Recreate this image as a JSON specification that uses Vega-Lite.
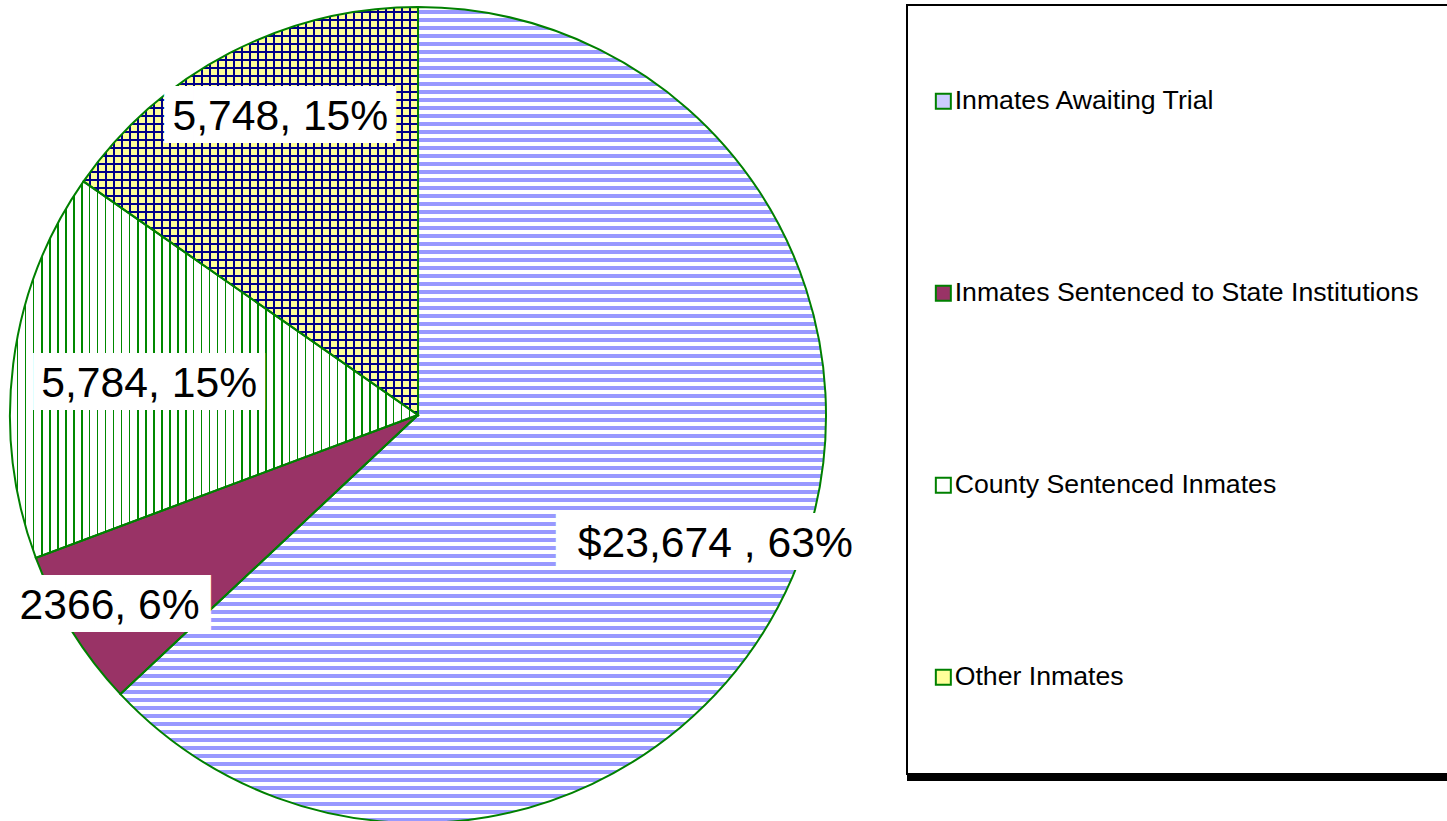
{
  "$schema": "https://vega.github.io/schema/vega-lite/v6.json",
  "padding": {"left": 6, "top": 3, "right": 0, "bottom": 0},
  "background": "white",
  "bounds": "flush",
  "spacing": 81,
  "config": {"view": {"stroke": null}, "font": "Liberation Sans"},
  "datasets": {
    "inmates": [
      {"cat": "Inmates Awaiting Trial", "value": 23674, "label": "$23,674 , 63%"},
      {"cat": "Inmates Sentenced to State Institutions", "value": 2366, "label": "2366, 6%"},
      {"cat": "County Sentenced Inmates", "value": 5784, "label": "5,784, 15%"},
      {"cat": "Other Inmates", "value": 5748, "label": "5,748, 15%"}
    ]
  },
  "hconcat": [
    {
      "width": 816,
      "height": 820,
      "data": {"name": "inmates"},
      "transform": [{"window": [{"op": "row_number", "as": "rank"}]}],
      "encoding": {
        "theta": {"field": "value", "type": "quantitative", "stack": true},
        "order": {"field": "rank", "type": "quantitative"}
      },
      "layer": [
        {
          "mark": {"type": "arc"},
          "encoding": {
            "fill": {
              "field": "cat",
              "type": "nominal",
              "scale": {
                "domain": ["Inmates Awaiting Trial", "Inmates Sentenced to State Institutions", "County Sentenced Inmates", "Other Inmates"],
                "range": ["#ccccff", "#993366", "#ffffff", "#ffff99"]
              },
              "legend": {
                "orient": "none",
                "legendX": 920,
                "legendY": 83,
                "title": null,
                "padding": 0,
                "symbolType": "square",
                "symbolSize": 225,
                "symbolStrokeColor": "#008000",
                "symbolStrokeWidth": 2,
                "symbolOpacity": 1,
                "labelFont": "Liberation Sans",
                "labelFontSize": 26.67,
                "labelColor": "#000000",
                "labelLimit": 800,
                "labelOffset": -2,
                "rowPadding": 164
              }
            }
          }
        },
        {
          "mark": {"type": "arc"},
          "encoding": {
            "fill": {
              "condition": [
                {
                  "test": "datum.cat === 'Inmates Awaiting Trial'",
                  "value": {
                    "gradient": "linear", "x1": 0, "y1": 0, "x2": 0, "y2": 1,
                    "stops": [
                      {"offset": 0, "color": "#fff"},
                      {"offset": 0.0037, "color": "#fff"}, {"offset": 0.0037, "color": "#99f"}, {"offset": 0.0086, "color": "#99f"}, {"offset": 0.0086, "color": "#fff"},
                      {"offset": 0.0135, "color": "#fff"}, {"offset": 0.0135, "color": "#99f"}, {"offset": 0.0184, "color": "#99f"}, {"offset": 0.0184, "color": "#fff"},
                      {"offset": 0.0233, "color": "#fff"}, {"offset": 0.0233, "color": "#99f"}, {"offset": 0.0282, "color": "#99f"}, {"offset": 0.0282, "color": "#fff"},
                      {"offset": 0.0331, "color": "#fff"}, {"offset": 0.0331, "color": "#99f"}, {"offset": 0.0380, "color": "#99f"}, {"offset": 0.0380, "color": "#fff"},
                      {"offset": 0.0429, "color": "#fff"}, {"offset": 0.0429, "color": "#99f"}, {"offset": 0.0478, "color": "#99f"}, {"offset": 0.0478, "color": "#fff"},
                      {"offset": 0.0527, "color": "#fff"}, {"offset": 0.0527, "color": "#99f"}, {"offset": 0.0576, "color": "#99f"}, {"offset": 0.0576, "color": "#fff"},
                      {"offset": 0.0625, "color": "#fff"}, {"offset": 0.0625, "color": "#99f"}, {"offset": 0.0674, "color": "#99f"}, {"offset": 0.0674, "color": "#fff"},
                      {"offset": 0.0723, "color": "#fff"}, {"offset": 0.0723, "color": "#99f"}, {"offset": 0.0772, "color": "#99f"}, {"offset": 0.0772, "color": "#fff"},
                      {"offset": 0.0821, "color": "#fff"}, {"offset": 0.0821, "color": "#99f"}, {"offset": 0.0870, "color": "#99f"}, {"offset": 0.0870, "color": "#fff"},
                      {"offset": 0.0919, "color": "#fff"}, {"offset": 0.0919, "color": "#99f"}, {"offset": 0.0968, "color": "#99f"}, {"offset": 0.0968, "color": "#fff"},
                      {"offset": 0.1017, "color": "#fff"}, {"offset": 0.1017, "color": "#99f"}, {"offset": 0.1066, "color": "#99f"}, {"offset": 0.1066, "color": "#fff"},
                      {"offset": 0.1115, "color": "#fff"}, {"offset": 0.1115, "color": "#99f"}, {"offset": 0.1164, "color": "#99f"}, {"offset": 0.1164, "color": "#fff"},
                      {"offset": 0.1213, "color": "#fff"}, {"offset": 0.1213, "color": "#99f"}, {"offset": 0.1262, "color": "#99f"}, {"offset": 0.1262, "color": "#fff"},
                      {"offset": 0.1311, "color": "#fff"}, {"offset": 0.1311, "color": "#99f"}, {"offset": 0.1360, "color": "#99f"}, {"offset": 0.1360, "color": "#fff"},
                      {"offset": 0.1409, "color": "#fff"}, {"offset": 0.1409, "color": "#99f"}, {"offset": 0.1458, "color": "#99f"}, {"offset": 0.1458, "color": "#fff"},
                      {"offset": 0.1507, "color": "#fff"}, {"offset": 0.1507, "color": "#99f"}, {"offset": 0.1556, "color": "#99f"}, {"offset": 0.1556, "color": "#fff"},
                      {"offset": 0.1605, "color": "#fff"}, {"offset": 0.1605, "color": "#99f"}, {"offset": 0.1654, "color": "#99f"}, {"offset": 0.1654, "color": "#fff"},
                      {"offset": 0.1703, "color": "#fff"}, {"offset": 0.1703, "color": "#99f"}, {"offset": 0.1752, "color": "#99f"}, {"offset": 0.1752, "color": "#fff"},
                      {"offset": 0.1801, "color": "#fff"}, {"offset": 0.1801, "color": "#99f"}, {"offset": 0.1850, "color": "#99f"}, {"offset": 0.1850, "color": "#fff"},
                      {"offset": 0.1900, "color": "#fff"}, {"offset": 0.1900, "color": "#99f"}, {"offset": 0.1949, "color": "#99f"}, {"offset": 0.1949, "color": "#fff"},
                      {"offset": 0.1998, "color": "#fff"}, {"offset": 0.1998, "color": "#99f"}, {"offset": 0.2047, "color": "#99f"}, {"offset": 0.2047, "color": "#fff"},
                      {"offset": 0.2096, "color": "#fff"}, {"offset": 0.2096, "color": "#99f"}, {"offset": 0.2145, "color": "#99f"}, {"offset": 0.2145, "color": "#fff"},
                      {"offset": 0.2194, "color": "#fff"}, {"offset": 0.2194, "color": "#99f"}, {"offset": 0.2243, "color": "#99f"}, {"offset": 0.2243, "color": "#fff"},
                      {"offset": 0.2292, "color": "#fff"}, {"offset": 0.2292, "color": "#99f"}, {"offset": 0.2341, "color": "#99f"}, {"offset": 0.2341, "color": "#fff"},
                      {"offset": 0.2390, "color": "#fff"}, {"offset": 0.2390, "color": "#99f"}, {"offset": 0.2439, "color": "#99f"}, {"offset": 0.2439, "color": "#fff"},
                      {"offset": 0.2488, "color": "#fff"}, {"offset": 0.2488, "color": "#99f"}, {"offset": 0.2537, "color": "#99f"}, {"offset": 0.2537, "color": "#fff"},
                      {"offset": 0.2586, "color": "#fff"}, {"offset": 0.2586, "color": "#99f"}, {"offset": 0.2635, "color": "#99f"}, {"offset": 0.2635, "color": "#fff"},
                      {"offset": 0.2684, "color": "#fff"}, {"offset": 0.2684, "color": "#99f"}, {"offset": 0.2733, "color": "#99f"}, {"offset": 0.2733, "color": "#fff"},
                      {"offset": 0.2782, "color": "#fff"}, {"offset": 0.2782, "color": "#99f"}, {"offset": 0.2831, "color": "#99f"}, {"offset": 0.2831, "color": "#fff"},
                      {"offset": 0.2880, "color": "#fff"}, {"offset": 0.2880, "color": "#99f"}, {"offset": 0.2929, "color": "#99f"}, {"offset": 0.2929, "color": "#fff"},
                      {"offset": 0.2978, "color": "#fff"}, {"offset": 0.2978, "color": "#99f"}, {"offset": 0.3027, "color": "#99f"}, {"offset": 0.3027, "color": "#fff"},
                      {"offset": 0.3076, "color": "#fff"}, {"offset": 0.3076, "color": "#99f"}, {"offset": 0.3125, "color": "#99f"}, {"offset": 0.3125, "color": "#fff"},
                      {"offset": 0.3174, "color": "#fff"}, {"offset": 0.3174, "color": "#99f"}, {"offset": 0.3223, "color": "#99f"}, {"offset": 0.3223, "color": "#fff"},
                      {"offset": 0.3272, "color": "#fff"}, {"offset": 0.3272, "color": "#99f"}, {"offset": 0.3321, "color": "#99f"}, {"offset": 0.3321, "color": "#fff"},
                      {"offset": 0.3370, "color": "#fff"}, {"offset": 0.3370, "color": "#99f"}, {"offset": 0.3419, "color": "#99f"}, {"offset": 0.3419, "color": "#fff"},
                      {"offset": 0.3468, "color": "#fff"}, {"offset": 0.3468, "color": "#99f"}, {"offset": 0.3517, "color": "#99f"}, {"offset": 0.3517, "color": "#fff"},
                      {"offset": 0.3566, "color": "#fff"}, {"offset": 0.3566, "color": "#99f"}, {"offset": 0.3615, "color": "#99f"}, {"offset": 0.3615, "color": "#fff"},
                      {"offset": 0.3664, "color": "#fff"}, {"offset": 0.3664, "color": "#99f"}, {"offset": 0.3713, "color": "#99f"}, {"offset": 0.3713, "color": "#fff"},
                      {"offset": 0.3762, "color": "#fff"}, {"offset": 0.3762, "color": "#99f"}, {"offset": 0.3811, "color": "#99f"}, {"offset": 0.3811, "color": "#fff"},
                      {"offset": 0.3860, "color": "#fff"}, {"offset": 0.3860, "color": "#99f"}, {"offset": 0.3909, "color": "#99f"}, {"offset": 0.3909, "color": "#fff"},
                      {"offset": 0.3958, "color": "#fff"}, {"offset": 0.3958, "color": "#99f"}, {"offset": 0.4007, "color": "#99f"}, {"offset": 0.4007, "color": "#fff"},
                      {"offset": 0.4056, "color": "#fff"}, {"offset": 0.4056, "color": "#99f"}, {"offset": 0.4105, "color": "#99f"}, {"offset": 0.4105, "color": "#fff"},
                      {"offset": 0.4154, "color": "#fff"}, {"offset": 0.4154, "color": "#99f"}, {"offset": 0.4203, "color": "#99f"}, {"offset": 0.4203, "color": "#fff"},
                      {"offset": 0.4252, "color": "#fff"}, {"offset": 0.4252, "color": "#99f"}, {"offset": 0.4301, "color": "#99f"}, {"offset": 0.4301, "color": "#fff"},
                      {"offset": 0.4350, "color": "#fff"}, {"offset": 0.4350, "color": "#99f"}, {"offset": 0.4400, "color": "#99f"}, {"offset": 0.4400, "color": "#fff"},
                      {"offset": 0.4449, "color": "#fff"}, {"offset": 0.4449, "color": "#99f"}, {"offset": 0.4498, "color": "#99f"}, {"offset": 0.4498, "color": "#fff"},
                      {"offset": 0.4547, "color": "#fff"}, {"offset": 0.4547, "color": "#99f"}, {"offset": 0.4596, "color": "#99f"}, {"offset": 0.4596, "color": "#fff"},
                      {"offset": 0.4645, "color": "#fff"}, {"offset": 0.4645, "color": "#99f"}, {"offset": 0.4694, "color": "#99f"}, {"offset": 0.4694, "color": "#fff"},
                      {"offset": 0.4743, "color": "#fff"}, {"offset": 0.4743, "color": "#99f"}, {"offset": 0.4792, "color": "#99f"}, {"offset": 0.4792, "color": "#fff"},
                      {"offset": 0.4841, "color": "#fff"}, {"offset": 0.4841, "color": "#99f"}, {"offset": 0.4890, "color": "#99f"}, {"offset": 0.4890, "color": "#fff"},
                      {"offset": 0.4939, "color": "#fff"}, {"offset": 0.4939, "color": "#99f"}, {"offset": 0.4988, "color": "#99f"}, {"offset": 0.4988, "color": "#fff"},
                      {"offset": 0.5037, "color": "#fff"}, {"offset": 0.5037, "color": "#99f"}, {"offset": 0.5086, "color": "#99f"}, {"offset": 0.5086, "color": "#fff"},
                      {"offset": 0.5135, "color": "#fff"}, {"offset": 0.5135, "color": "#99f"}, {"offset": 0.5184, "color": "#99f"}, {"offset": 0.5184, "color": "#fff"},
                      {"offset": 0.5233, "color": "#fff"}, {"offset": 0.5233, "color": "#99f"}, {"offset": 0.5282, "color": "#99f"}, {"offset": 0.5282, "color": "#fff"},
                      {"offset": 0.5331, "color": "#fff"}, {"offset": 0.5331, "color": "#99f"}, {"offset": 0.5380, "color": "#99f"}, {"offset": 0.5380, "color": "#fff"},
                      {"offset": 0.5429, "color": "#fff"}, {"offset": 0.5429, "color": "#99f"}, {"offset": 0.5478, "color": "#99f"}, {"offset": 0.5478, "color": "#fff"},
                      {"offset": 0.5527, "color": "#fff"}, {"offset": 0.5527, "color": "#99f"}, {"offset": 0.5576, "color": "#99f"}, {"offset": 0.5576, "color": "#fff"},
                      {"offset": 0.5625, "color": "#fff"}, {"offset": 0.5625, "color": "#99f"}, {"offset": 0.5674, "color": "#99f"}, {"offset": 0.5674, "color": "#fff"},
                      {"offset": 0.5723, "color": "#fff"}, {"offset": 0.5723, "color": "#99f"}, {"offset": 0.5772, "color": "#99f"}, {"offset": 0.5772, "color": "#fff"},
                      {"offset": 0.5821, "color": "#fff"}, {"offset": 0.5821, "color": "#99f"}, {"offset": 0.5870, "color": "#99f"}, {"offset": 0.5870, "color": "#fff"},
                      {"offset": 0.5919, "color": "#fff"}, {"offset": 0.5919, "color": "#99f"}, {"offset": 0.5968, "color": "#99f"}, {"offset": 0.5968, "color": "#fff"},
                      {"offset": 0.6017, "color": "#fff"}, {"offset": 0.6017, "color": "#99f"}, {"offset": 0.6066, "color": "#99f"}, {"offset": 0.6066, "color": "#fff"},
                      {"offset": 0.6115, "color": "#fff"}, {"offset": 0.6115, "color": "#99f"}, {"offset": 0.6164, "color": "#99f"}, {"offset": 0.6164, "color": "#fff"},
                      {"offset": 0.6213, "color": "#fff"}, {"offset": 0.6213, "color": "#99f"}, {"offset": 0.6262, "color": "#99f"}, {"offset": 0.6262, "color": "#fff"},
                      {"offset": 0.6311, "color": "#fff"}, {"offset": 0.6311, "color": "#99f"}, {"offset": 0.6360, "color": "#99f"}, {"offset": 0.6360, "color": "#fff"},
                      {"offset": 0.6409, "color": "#fff"}, {"offset": 0.6409, "color": "#99f"}, {"offset": 0.6458, "color": "#99f"}, {"offset": 0.6458, "color": "#fff"},
                      {"offset": 0.6507, "color": "#fff"}, {"offset": 0.6507, "color": "#99f"}, {"offset": 0.6556, "color": "#99f"}, {"offset": 0.6556, "color": "#fff"},
                      {"offset": 0.6605, "color": "#fff"}, {"offset": 0.6605, "color": "#99f"}, {"offset": 0.6654, "color": "#99f"}, {"offset": 0.6654, "color": "#fff"},
                      {"offset": 0.6703, "color": "#fff"}, {"offset": 0.6703, "color": "#99f"}, {"offset": 0.6752, "color": "#99f"}, {"offset": 0.6752, "color": "#fff"},
                      {"offset": 0.6801, "color": "#fff"}, {"offset": 0.6801, "color": "#99f"}, {"offset": 0.6850, "color": "#99f"}, {"offset": 0.6850, "color": "#fff"},
                      {"offset": 0.6900, "color": "#fff"}, {"offset": 0.6900, "color": "#99f"}, {"offset": 0.6949, "color": "#99f"}, {"offset": 0.6949, "color": "#fff"},
                      {"offset": 0.6998, "color": "#fff"}, {"offset": 0.6998, "color": "#99f"}, {"offset": 0.7047, "color": "#99f"}, {"offset": 0.7047, "color": "#fff"},
                      {"offset": 0.7096, "color": "#fff"}, {"offset": 0.7096, "color": "#99f"}, {"offset": 0.7145, "color": "#99f"}, {"offset": 0.7145, "color": "#fff"},
                      {"offset": 0.7194, "color": "#fff"}, {"offset": 0.7194, "color": "#99f"}, {"offset": 0.7243, "color": "#99f"}, {"offset": 0.7243, "color": "#fff"},
                      {"offset": 0.7292, "color": "#fff"}, {"offset": 0.7292, "color": "#99f"}, {"offset": 0.7341, "color": "#99f"}, {"offset": 0.7341, "color": "#fff"},
                      {"offset": 0.7390, "color": "#fff"}, {"offset": 0.7390, "color": "#99f"}, {"offset": 0.7439, "color": "#99f"}, {"offset": 0.7439, "color": "#fff"},
                      {"offset": 0.7488, "color": "#fff"}, {"offset": 0.7488, "color": "#99f"}, {"offset": 0.7537, "color": "#99f"}, {"offset": 0.7537, "color": "#fff"},
                      {"offset": 0.7586, "color": "#fff"}, {"offset": 0.7586, "color": "#99f"}, {"offset": 0.7635, "color": "#99f"}, {"offset": 0.7635, "color": "#fff"},
                      {"offset": 0.7684, "color": "#fff"}, {"offset": 0.7684, "color": "#99f"}, {"offset": 0.7733, "color": "#99f"}, {"offset": 0.7733, "color": "#fff"},
                      {"offset": 0.7782, "color": "#fff"}, {"offset": 0.7782, "color": "#99f"}, {"offset": 0.7831, "color": "#99f"}, {"offset": 0.7831, "color": "#fff"},
                      {"offset": 0.7880, "color": "#fff"}, {"offset": 0.7880, "color": "#99f"}, {"offset": 0.7929, "color": "#99f"}, {"offset": 0.7929, "color": "#fff"},
                      {"offset": 0.7978, "color": "#fff"}, {"offset": 0.7978, "color": "#99f"}, {"offset": 0.8027, "color": "#99f"}, {"offset": 0.8027, "color": "#fff"},
                      {"offset": 0.8076, "color": "#fff"}, {"offset": 0.8076, "color": "#99f"}, {"offset": 0.8125, "color": "#99f"}, {"offset": 0.8125, "color": "#fff"},
                      {"offset": 0.8174, "color": "#fff"}, {"offset": 0.8174, "color": "#99f"}, {"offset": 0.8223, "color": "#99f"}, {"offset": 0.8223, "color": "#fff"},
                      {"offset": 0.8272, "color": "#fff"}, {"offset": 0.8272, "color": "#99f"}, {"offset": 0.8321, "color": "#99f"}, {"offset": 0.8321, "color": "#fff"},
                      {"offset": 0.8370, "color": "#fff"}, {"offset": 0.8370, "color": "#99f"}, {"offset": 0.8419, "color": "#99f"}, {"offset": 0.8419, "color": "#fff"},
                      {"offset": 0.8468, "color": "#fff"}, {"offset": 0.8468, "color": "#99f"}, {"offset": 0.8517, "color": "#99f"}, {"offset": 0.8517, "color": "#fff"},
                      {"offset": 0.8566, "color": "#fff"}, {"offset": 0.8566, "color": "#99f"}, {"offset": 0.8615, "color": "#99f"}, {"offset": 0.8615, "color": "#fff"},
                      {"offset": 0.8664, "color": "#fff"}, {"offset": 0.8664, "color": "#99f"}, {"offset": 0.8713, "color": "#99f"}, {"offset": 0.8713, "color": "#fff"},
                      {"offset": 0.8762, "color": "#fff"}, {"offset": 0.8762, "color": "#99f"}, {"offset": 0.8811, "color": "#99f"}, {"offset": 0.8811, "color": "#fff"},
                      {"offset": 0.8860, "color": "#fff"}, {"offset": 0.8860, "color": "#99f"}, {"offset": 0.8909, "color": "#99f"}, {"offset": 0.8909, "color": "#fff"},
                      {"offset": 0.8958, "color": "#fff"}, {"offset": 0.8958, "color": "#99f"}, {"offset": 0.9007, "color": "#99f"}, {"offset": 0.9007, "color": "#fff"},
                      {"offset": 0.9056, "color": "#fff"}, {"offset": 0.9056, "color": "#99f"}, {"offset": 0.9105, "color": "#99f"}, {"offset": 0.9105, "color": "#fff"},
                      {"offset": 0.9154, "color": "#fff"}, {"offset": 0.9154, "color": "#99f"}, {"offset": 0.9203, "color": "#99f"}, {"offset": 0.9203, "color": "#fff"},
                      {"offset": 0.9252, "color": "#fff"}, {"offset": 0.9252, "color": "#99f"}, {"offset": 0.9301, "color": "#99f"}, {"offset": 0.9301, "color": "#fff"},
                      {"offset": 0.9350, "color": "#fff"}, {"offset": 0.9350, "color": "#99f"}, {"offset": 0.9400, "color": "#99f"}, {"offset": 0.9400, "color": "#fff"},
                      {"offset": 0.9449, "color": "#fff"}, {"offset": 0.9449, "color": "#99f"}, {"offset": 0.9498, "color": "#99f"}, {"offset": 0.9498, "color": "#fff"},
                      {"offset": 0.9547, "color": "#fff"}, {"offset": 0.9547, "color": "#99f"}, {"offset": 0.9596, "color": "#99f"}, {"offset": 0.9596, "color": "#fff"},
                      {"offset": 0.9645, "color": "#fff"}, {"offset": 0.9645, "color": "#99f"}, {"offset": 0.9694, "color": "#99f"}, {"offset": 0.9694, "color": "#fff"},
                      {"offset": 0.9743, "color": "#fff"}, {"offset": 0.9743, "color": "#99f"}, {"offset": 0.9792, "color": "#99f"}, {"offset": 0.9792, "color": "#fff"},
                      {"offset": 0.9841, "color": "#fff"}, {"offset": 0.9841, "color": "#99f"}, {"offset": 0.9890, "color": "#99f"}, {"offset": 0.9890, "color": "#fff"},
                      {"offset": 0.9939, "color": "#fff"}, {"offset": 0.9939, "color": "#99f"}, {"offset": 0.9988, "color": "#99f"}, {"offset": 0.9988, "color": "#fff"},
                      {"offset": 1, "color": "#fff"}
                    ]
                  }
                },
                {
                  "test": "datum.cat === 'County Sentenced Inmates'",
                  "value": {
                    "gradient": "linear", "x1": 0, "y1": 0, "x2": 1, "y2": 0,
                    "stops": [
                      {"offset": 0, "color": "#fff"},
                      {"offset": 0.0172, "color": "#fff"}, {"offset": 0.0172, "color": "#080"}, {"offset": 0.0208, "color": "#080"}, {"offset": 0.0208, "color": "#fff"},
                      {"offset": 0.0368, "color": "#fff"}, {"offset": 0.0368, "color": "#080"}, {"offset": 0.0404, "color": "#080"}, {"offset": 0.0404, "color": "#fff"},
                      {"offset": 0.0564, "color": "#fff"}, {"offset": 0.0564, "color": "#080"}, {"offset": 0.0600, "color": "#080"}, {"offset": 0.0600, "color": "#fff"},
                      {"offset": 0.0760, "color": "#fff"}, {"offset": 0.0760, "color": "#080"}, {"offset": 0.0797, "color": "#080"}, {"offset": 0.0797, "color": "#fff"},
                      {"offset": 0.0956, "color": "#fff"}, {"offset": 0.0956, "color": "#080"}, {"offset": 0.0993, "color": "#080"}, {"offset": 0.0993, "color": "#fff"},
                      {"offset": 0.1152, "color": "#fff"}, {"offset": 0.1152, "color": "#080"}, {"offset": 0.1189, "color": "#080"}, {"offset": 0.1189, "color": "#fff"},
                      {"offset": 0.1348, "color": "#fff"}, {"offset": 0.1348, "color": "#080"}, {"offset": 0.1385, "color": "#080"}, {"offset": 0.1385, "color": "#fff"},
                      {"offset": 0.1544, "color": "#fff"}, {"offset": 0.1544, "color": "#080"}, {"offset": 0.1581, "color": "#080"}, {"offset": 0.1581, "color": "#fff"},
                      {"offset": 0.1740, "color": "#fff"}, {"offset": 0.1740, "color": "#080"}, {"offset": 0.1777, "color": "#080"}, {"offset": 0.1777, "color": "#fff"},
                      {"offset": 0.1936, "color": "#fff"}, {"offset": 0.1936, "color": "#080"}, {"offset": 0.1973, "color": "#080"}, {"offset": 0.1973, "color": "#fff"},
                      {"offset": 0.2132, "color": "#fff"}, {"offset": 0.2132, "color": "#080"}, {"offset": 0.2169, "color": "#080"}, {"offset": 0.2169, "color": "#fff"},
                      {"offset": 0.2328, "color": "#fff"}, {"offset": 0.2328, "color": "#080"}, {"offset": 0.2365, "color": "#080"}, {"offset": 0.2365, "color": "#fff"},
                      {"offset": 0.2525, "color": "#fff"}, {"offset": 0.2525, "color": "#080"}, {"offset": 0.2561, "color": "#080"}, {"offset": 0.2561, "color": "#fff"},
                      {"offset": 0.2721, "color": "#fff"}, {"offset": 0.2721, "color": "#080"}, {"offset": 0.2757, "color": "#080"}, {"offset": 0.2757, "color": "#fff"},
                      {"offset": 0.2917, "color": "#fff"}, {"offset": 0.2917, "color": "#080"}, {"offset": 0.2953, "color": "#080"}, {"offset": 0.2953, "color": "#fff"},
                      {"offset": 0.3113, "color": "#fff"}, {"offset": 0.3113, "color": "#080"}, {"offset": 0.3150, "color": "#080"}, {"offset": 0.3150, "color": "#fff"},
                      {"offset": 0.3309, "color": "#fff"}, {"offset": 0.3309, "color": "#080"}, {"offset": 0.3346, "color": "#080"}, {"offset": 0.3346, "color": "#fff"},
                      {"offset": 0.3505, "color": "#fff"}, {"offset": 0.3505, "color": "#080"}, {"offset": 0.3542, "color": "#080"}, {"offset": 0.3542, "color": "#fff"},
                      {"offset": 0.3701, "color": "#fff"}, {"offset": 0.3701, "color": "#080"}, {"offset": 0.3738, "color": "#080"}, {"offset": 0.3738, "color": "#fff"},
                      {"offset": 0.3897, "color": "#fff"}, {"offset": 0.3897, "color": "#080"}, {"offset": 0.3934, "color": "#080"}, {"offset": 0.3934, "color": "#fff"},
                      {"offset": 0.4093, "color": "#fff"}, {"offset": 0.4093, "color": "#080"}, {"offset": 0.4130, "color": "#080"}, {"offset": 0.4130, "color": "#fff"},
                      {"offset": 0.4289, "color": "#fff"}, {"offset": 0.4289, "color": "#080"}, {"offset": 0.4326, "color": "#080"}, {"offset": 0.4326, "color": "#fff"},
                      {"offset": 0.4485, "color": "#fff"}, {"offset": 0.4485, "color": "#080"}, {"offset": 0.4522, "color": "#080"}, {"offset": 0.4522, "color": "#fff"},
                      {"offset": 0.4681, "color": "#fff"}, {"offset": 0.4681, "color": "#080"}, {"offset": 0.4718, "color": "#080"}, {"offset": 0.4718, "color": "#fff"},
                      {"offset": 0.4877, "color": "#fff"}, {"offset": 0.4877, "color": "#080"}, {"offset": 0.4914, "color": "#080"}, {"offset": 0.4914, "color": "#fff"},
                      {"offset": 0.5074, "color": "#fff"}, {"offset": 0.5074, "color": "#080"}, {"offset": 0.5110, "color": "#080"}, {"offset": 0.5110, "color": "#fff"},
                      {"offset": 0.5270, "color": "#fff"}, {"offset": 0.5270, "color": "#080"}, {"offset": 0.5306, "color": "#080"}, {"offset": 0.5306, "color": "#fff"},
                      {"offset": 0.5466, "color": "#fff"}, {"offset": 0.5466, "color": "#080"}, {"offset": 0.5502, "color": "#080"}, {"offset": 0.5502, "color": "#fff"},
                      {"offset": 0.5662, "color": "#fff"}, {"offset": 0.5662, "color": "#080"}, {"offset": 0.5699, "color": "#080"}, {"offset": 0.5699, "color": "#fff"},
                      {"offset": 0.5858, "color": "#fff"}, {"offset": 0.5858, "color": "#080"}, {"offset": 0.5895, "color": "#080"}, {"offset": 0.5895, "color": "#fff"},
                      {"offset": 0.6054, "color": "#fff"}, {"offset": 0.6054, "color": "#080"}, {"offset": 0.6091, "color": "#080"}, {"offset": 0.6091, "color": "#fff"},
                      {"offset": 0.6250, "color": "#fff"}, {"offset": 0.6250, "color": "#080"}, {"offset": 0.6287, "color": "#080"}, {"offset": 0.6287, "color": "#fff"},
                      {"offset": 0.6446, "color": "#fff"}, {"offset": 0.6446, "color": "#080"}, {"offset": 0.6483, "color": "#080"}, {"offset": 0.6483, "color": "#fff"},
                      {"offset": 0.6642, "color": "#fff"}, {"offset": 0.6642, "color": "#080"}, {"offset": 0.6679, "color": "#080"}, {"offset": 0.6679, "color": "#fff"},
                      {"offset": 0.6838, "color": "#fff"}, {"offset": 0.6838, "color": "#080"}, {"offset": 0.6875, "color": "#080"}, {"offset": 0.6875, "color": "#fff"},
                      {"offset": 0.7034, "color": "#fff"}, {"offset": 0.7034, "color": "#080"}, {"offset": 0.7071, "color": "#080"}, {"offset": 0.7071, "color": "#fff"},
                      {"offset": 0.7230, "color": "#fff"}, {"offset": 0.7230, "color": "#080"}, {"offset": 0.7267, "color": "#080"}, {"offset": 0.7267, "color": "#fff"},
                      {"offset": 0.7426, "color": "#fff"}, {"offset": 0.7426, "color": "#080"}, {"offset": 0.7463, "color": "#080"}, {"offset": 0.7463, "color": "#fff"},
                      {"offset": 0.7623, "color": "#fff"}, {"offset": 0.7623, "color": "#080"}, {"offset": 0.7659, "color": "#080"}, {"offset": 0.7659, "color": "#fff"},
                      {"offset": 0.7819, "color": "#fff"}, {"offset": 0.7819, "color": "#080"}, {"offset": 0.7855, "color": "#080"}, {"offset": 0.7855, "color": "#fff"},
                      {"offset": 0.8015, "color": "#fff"}, {"offset": 0.8015, "color": "#080"}, {"offset": 0.8051, "color": "#080"}, {"offset": 0.8051, "color": "#fff"},
                      {"offset": 0.8211, "color": "#fff"}, {"offset": 0.8211, "color": "#080"}, {"offset": 0.8248, "color": "#080"}, {"offset": 0.8248, "color": "#fff"},
                      {"offset": 0.8407, "color": "#fff"}, {"offset": 0.8407, "color": "#080"}, {"offset": 0.8444, "color": "#080"}, {"offset": 0.8444, "color": "#fff"},
                      {"offset": 0.8603, "color": "#fff"}, {"offset": 0.8603, "color": "#080"}, {"offset": 0.8640, "color": "#080"}, {"offset": 0.8640, "color": "#fff"},
                      {"offset": 0.8799, "color": "#fff"}, {"offset": 0.8799, "color": "#080"}, {"offset": 0.8836, "color": "#080"}, {"offset": 0.8836, "color": "#fff"},
                      {"offset": 0.8995, "color": "#fff"}, {"offset": 0.8995, "color": "#080"}, {"offset": 0.9032, "color": "#080"}, {"offset": 0.9032, "color": "#fff"},
                      {"offset": 0.9191, "color": "#fff"}, {"offset": 0.9191, "color": "#080"}, {"offset": 0.9228, "color": "#080"}, {"offset": 0.9228, "color": "#fff"},
                      {"offset": 0.9387, "color": "#fff"}, {"offset": 0.9387, "color": "#080"}, {"offset": 0.9424, "color": "#080"}, {"offset": 0.9424, "color": "#fff"},
                      {"offset": 0.9583, "color": "#fff"}, {"offset": 0.9583, "color": "#080"}, {"offset": 0.9620, "color": "#080"}, {"offset": 0.9620, "color": "#fff"},
                      {"offset": 0.9779, "color": "#fff"}, {"offset": 0.9779, "color": "#080"}, {"offset": 0.9816, "color": "#080"}, {"offset": 0.9816, "color": "#fff"},
                      {"offset": 1, "color": "#fff"}
                    ]
                  }
                },
                {
                  "test": "datum.cat === 'Other Inmates'",
                  "value": {
                    "gradient": "linear", "x1": 0, "y1": 0, "x2": 0, "y2": 1,
                    "stops": [
                      {"offset": 0, "color": "#ff9"},
                      {"offset": 0.0098, "color": "#ff9"}, {"offset": 0.0098, "color": "#008"}, {"offset": 0.0147, "color": "#008"}, {"offset": 0.0147, "color": "#ff9"},
                      {"offset": 0.0294, "color": "#ff9"}, {"offset": 0.0294, "color": "#008"}, {"offset": 0.0343, "color": "#008"}, {"offset": 0.0343, "color": "#ff9"},
                      {"offset": 0.0490, "color": "#ff9"}, {"offset": 0.0490, "color": "#008"}, {"offset": 0.0539, "color": "#008"}, {"offset": 0.0539, "color": "#ff9"},
                      {"offset": 0.0686, "color": "#ff9"}, {"offset": 0.0686, "color": "#008"}, {"offset": 0.0735, "color": "#008"}, {"offset": 0.0735, "color": "#ff9"},
                      {"offset": 0.0882, "color": "#ff9"}, {"offset": 0.0882, "color": "#008"}, {"offset": 0.0931, "color": "#008"}, {"offset": 0.0931, "color": "#ff9"},
                      {"offset": 0.1078, "color": "#ff9"}, {"offset": 0.1078, "color": "#008"}, {"offset": 0.1127, "color": "#008"}, {"offset": 0.1127, "color": "#ff9"},
                      {"offset": 0.1275, "color": "#ff9"}, {"offset": 0.1275, "color": "#008"}, {"offset": 0.1324, "color": "#008"}, {"offset": 0.1324, "color": "#ff9"},
                      {"offset": 0.1471, "color": "#ff9"}, {"offset": 0.1471, "color": "#008"}, {"offset": 0.1520, "color": "#008"}, {"offset": 0.1520, "color": "#ff9"},
                      {"offset": 0.1667, "color": "#ff9"}, {"offset": 0.1667, "color": "#008"}, {"offset": 0.1716, "color": "#008"}, {"offset": 0.1716, "color": "#ff9"},
                      {"offset": 0.1863, "color": "#ff9"}, {"offset": 0.1863, "color": "#008"}, {"offset": 0.1912, "color": "#008"}, {"offset": 0.1912, "color": "#ff9"},
                      {"offset": 0.2059, "color": "#ff9"}, {"offset": 0.2059, "color": "#008"}, {"offset": 0.2108, "color": "#008"}, {"offset": 0.2108, "color": "#ff9"},
                      {"offset": 0.2255, "color": "#ff9"}, {"offset": 0.2255, "color": "#008"}, {"offset": 0.2304, "color": "#008"}, {"offset": 0.2304, "color": "#ff9"},
                      {"offset": 0.2451, "color": "#ff9"}, {"offset": 0.2451, "color": "#008"}, {"offset": 0.2500, "color": "#008"}, {"offset": 0.2500, "color": "#ff9"},
                      {"offset": 0.2647, "color": "#ff9"}, {"offset": 0.2647, "color": "#008"}, {"offset": 0.2696, "color": "#008"}, {"offset": 0.2696, "color": "#ff9"},
                      {"offset": 0.2843, "color": "#ff9"}, {"offset": 0.2843, "color": "#008"}, {"offset": 0.2892, "color": "#008"}, {"offset": 0.2892, "color": "#ff9"},
                      {"offset": 0.3039, "color": "#ff9"}, {"offset": 0.3039, "color": "#008"}, {"offset": 0.3088, "color": "#008"}, {"offset": 0.3088, "color": "#ff9"},
                      {"offset": 0.3235, "color": "#ff9"}, {"offset": 0.3235, "color": "#008"}, {"offset": 0.3284, "color": "#008"}, {"offset": 0.3284, "color": "#ff9"},
                      {"offset": 0.3431, "color": "#ff9"}, {"offset": 0.3431, "color": "#008"}, {"offset": 0.3480, "color": "#008"}, {"offset": 0.3480, "color": "#ff9"},
                      {"offset": 0.3627, "color": "#ff9"}, {"offset": 0.3627, "color": "#008"}, {"offset": 0.3676, "color": "#008"}, {"offset": 0.3676, "color": "#ff9"},
                      {"offset": 0.3824, "color": "#ff9"}, {"offset": 0.3824, "color": "#008"}, {"offset": 0.3873, "color": "#008"}, {"offset": 0.3873, "color": "#ff9"},
                      {"offset": 0.4020, "color": "#ff9"}, {"offset": 0.4020, "color": "#008"}, {"offset": 0.4069, "color": "#008"}, {"offset": 0.4069, "color": "#ff9"},
                      {"offset": 0.4216, "color": "#ff9"}, {"offset": 0.4216, "color": "#008"}, {"offset": 0.4265, "color": "#008"}, {"offset": 0.4265, "color": "#ff9"},
                      {"offset": 0.4412, "color": "#ff9"}, {"offset": 0.4412, "color": "#008"}, {"offset": 0.4461, "color": "#008"}, {"offset": 0.4461, "color": "#ff9"},
                      {"offset": 0.4608, "color": "#ff9"}, {"offset": 0.4608, "color": "#008"}, {"offset": 0.4657, "color": "#008"}, {"offset": 0.4657, "color": "#ff9"},
                      {"offset": 0.4804, "color": "#ff9"}, {"offset": 0.4804, "color": "#008"}, {"offset": 0.4853, "color": "#008"}, {"offset": 0.4853, "color": "#ff9"},
                      {"offset": 0.5000, "color": "#ff9"}, {"offset": 0.5000, "color": "#008"}, {"offset": 0.5049, "color": "#008"}, {"offset": 0.5049, "color": "#ff9"},
                      {"offset": 0.5196, "color": "#ff9"}, {"offset": 0.5196, "color": "#008"}, {"offset": 0.5245, "color": "#008"}, {"offset": 0.5245, "color": "#ff9"},
                      {"offset": 0.5392, "color": "#ff9"}, {"offset": 0.5392, "color": "#008"}, {"offset": 0.5441, "color": "#008"}, {"offset": 0.5441, "color": "#ff9"},
                      {"offset": 0.5588, "color": "#ff9"}, {"offset": 0.5588, "color": "#008"}, {"offset": 0.5637, "color": "#008"}, {"offset": 0.5637, "color": "#ff9"},
                      {"offset": 0.5784, "color": "#ff9"}, {"offset": 0.5784, "color": "#008"}, {"offset": 0.5833, "color": "#008"}, {"offset": 0.5833, "color": "#ff9"},
                      {"offset": 0.5980, "color": "#ff9"}, {"offset": 0.5980, "color": "#008"}, {"offset": 0.6029, "color": "#008"}, {"offset": 0.6029, "color": "#ff9"},
                      {"offset": 0.6176, "color": "#ff9"}, {"offset": 0.6176, "color": "#008"}, {"offset": 0.6225, "color": "#008"}, {"offset": 0.6225, "color": "#ff9"},
                      {"offset": 0.6373, "color": "#ff9"}, {"offset": 0.6373, "color": "#008"}, {"offset": 0.6422, "color": "#008"}, {"offset": 0.6422, "color": "#ff9"},
                      {"offset": 0.6569, "color": "#ff9"}, {"offset": 0.6569, "color": "#008"}, {"offset": 0.6618, "color": "#008"}, {"offset": 0.6618, "color": "#ff9"},
                      {"offset": 0.6765, "color": "#ff9"}, {"offset": 0.6765, "color": "#008"}, {"offset": 0.6814, "color": "#008"}, {"offset": 0.6814, "color": "#ff9"},
                      {"offset": 0.6961, "color": "#ff9"}, {"offset": 0.6961, "color": "#008"}, {"offset": 0.7010, "color": "#008"}, {"offset": 0.7010, "color": "#ff9"},
                      {"offset": 0.7157, "color": "#ff9"}, {"offset": 0.7157, "color": "#008"}, {"offset": 0.7206, "color": "#008"}, {"offset": 0.7206, "color": "#ff9"},
                      {"offset": 0.7353, "color": "#ff9"}, {"offset": 0.7353, "color": "#008"}, {"offset": 0.7402, "color": "#008"}, {"offset": 0.7402, "color": "#ff9"},
                      {"offset": 0.7549, "color": "#ff9"}, {"offset": 0.7549, "color": "#008"}, {"offset": 0.7598, "color": "#008"}, {"offset": 0.7598, "color": "#ff9"},
                      {"offset": 0.7745, "color": "#ff9"}, {"offset": 0.7745, "color": "#008"}, {"offset": 0.7794, "color": "#008"}, {"offset": 0.7794, "color": "#ff9"},
                      {"offset": 0.7941, "color": "#ff9"}, {"offset": 0.7941, "color": "#008"}, {"offset": 0.7990, "color": "#008"}, {"offset": 0.7990, "color": "#ff9"},
                      {"offset": 0.8137, "color": "#ff9"}, {"offset": 0.8137, "color": "#008"}, {"offset": 0.8186, "color": "#008"}, {"offset": 0.8186, "color": "#ff9"},
                      {"offset": 0.8333, "color": "#ff9"}, {"offset": 0.8333, "color": "#008"}, {"offset": 0.8382, "color": "#008"}, {"offset": 0.8382, "color": "#ff9"},
                      {"offset": 0.8529, "color": "#ff9"}, {"offset": 0.8529, "color": "#008"}, {"offset": 0.8578, "color": "#008"}, {"offset": 0.8578, "color": "#ff9"},
                      {"offset": 0.8725, "color": "#ff9"}, {"offset": 0.8725, "color": "#008"}, {"offset": 0.8775, "color": "#008"}, {"offset": 0.8775, "color": "#ff9"},
                      {"offset": 0.8922, "color": "#ff9"}, {"offset": 0.8922, "color": "#008"}, {"offset": 0.8971, "color": "#008"}, {"offset": 0.8971, "color": "#ff9"},
                      {"offset": 0.9118, "color": "#ff9"}, {"offset": 0.9118, "color": "#008"}, {"offset": 0.9167, "color": "#008"}, {"offset": 0.9167, "color": "#ff9"},
                      {"offset": 0.9314, "color": "#ff9"}, {"offset": 0.9314, "color": "#008"}, {"offset": 0.9363, "color": "#008"}, {"offset": 0.9363, "color": "#ff9"},
                      {"offset": 0.9510, "color": "#ff9"}, {"offset": 0.9510, "color": "#008"}, {"offset": 0.9559, "color": "#008"}, {"offset": 0.9559, "color": "#ff9"},
                      {"offset": 0.9706, "color": "#ff9"}, {"offset": 0.9706, "color": "#008"}, {"offset": 0.9755, "color": "#008"}, {"offset": 0.9755, "color": "#ff9"},
                      {"offset": 0.9902, "color": "#ff9"}, {"offset": 0.9902, "color": "#008"}, {"offset": 0.9951, "color": "#008"}, {"offset": 0.9951, "color": "#ff9"},
                      {"offset": 1, "color": "#ff9"}
                    ]
                  }
                }
              ],
              "value": "#993366"
            }
          }
        },
        {
          "mark": {"type": "arc", "stroke": "#008000", "strokeWidth": 2},
          "encoding": {
            "fill": {
              "condition": [
                {
                  "test": "datum.cat === 'Other Inmates'",
                  "value": {
                    "gradient": "linear", "x1": 0, "y1": 0, "x2": 1, "y2": 0,
                    "stops": [
                      {"offset": 0, "color": "rgba(0,0,128,0)"},
                      {"offset": 0.0164, "color": "rgba(0,0,128,0)"}, {"offset": 0.0164, "color": "#008"}, {"offset": 0.0224, "color": "#008"}, {"offset": 0.0224, "color": "rgba(0,0,128,0)"},
                      {"offset": 0.0404, "color": "rgba(0,0,128,0)"}, {"offset": 0.0404, "color": "#008"}, {"offset": 0.0463, "color": "#008"}, {"offset": 0.0463, "color": "rgba(0,0,128,0)"},
                      {"offset": 0.0643, "color": "rgba(0,0,128,0)"}, {"offset": 0.0643, "color": "#008"}, {"offset": 0.0703, "color": "#008"}, {"offset": 0.0703, "color": "rgba(0,0,128,0)"},
                      {"offset": 0.0882, "color": "rgba(0,0,128,0)"}, {"offset": 0.0882, "color": "#008"}, {"offset": 0.0942, "color": "#008"}, {"offset": 0.0942, "color": "rgba(0,0,128,0)"},
                      {"offset": 0.1121, "color": "rgba(0,0,128,0)"}, {"offset": 0.1121, "color": "#008"}, {"offset": 0.1181, "color": "#008"}, {"offset": 0.1181, "color": "rgba(0,0,128,0)"},
                      {"offset": 0.1360, "color": "rgba(0,0,128,0)"}, {"offset": 0.1360, "color": "#008"}, {"offset": 0.1420, "color": "#008"}, {"offset": 0.1420, "color": "rgba(0,0,128,0)"},
                      {"offset": 0.1599, "color": "rgba(0,0,128,0)"}, {"offset": 0.1599, "color": "#008"}, {"offset": 0.1659, "color": "#008"}, {"offset": 0.1659, "color": "rgba(0,0,128,0)"},
                      {"offset": 0.1839, "color": "rgba(0,0,128,0)"}, {"offset": 0.1839, "color": "#008"}, {"offset": 0.1898, "color": "#008"}, {"offset": 0.1898, "color": "rgba(0,0,128,0)"},
                      {"offset": 0.2078, "color": "rgba(0,0,128,0)"}, {"offset": 0.2078, "color": "#008"}, {"offset": 0.2138, "color": "#008"}, {"offset": 0.2138, "color": "rgba(0,0,128,0)"},
                      {"offset": 0.2317, "color": "rgba(0,0,128,0)"}, {"offset": 0.2317, "color": "#008"}, {"offset": 0.2377, "color": "#008"}, {"offset": 0.2377, "color": "rgba(0,0,128,0)"},
                      {"offset": 0.2556, "color": "rgba(0,0,128,0)"}, {"offset": 0.2556, "color": "#008"}, {"offset": 0.2616, "color": "#008"}, {"offset": 0.2616, "color": "rgba(0,0,128,0)"},
                      {"offset": 0.2795, "color": "rgba(0,0,128,0)"}, {"offset": 0.2795, "color": "#008"}, {"offset": 0.2855, "color": "#008"}, {"offset": 0.2855, "color": "rgba(0,0,128,0)"},
                      {"offset": 0.3034, "color": "rgba(0,0,128,0)"}, {"offset": 0.3034, "color": "#008"}, {"offset": 0.3094, "color": "#008"}, {"offset": 0.3094, "color": "rgba(0,0,128,0)"},
                      {"offset": 0.3274, "color": "rgba(0,0,128,0)"}, {"offset": 0.3274, "color": "#008"}, {"offset": 0.3333, "color": "#008"}, {"offset": 0.3333, "color": "rgba(0,0,128,0)"},
                      {"offset": 0.3513, "color": "rgba(0,0,128,0)"}, {"offset": 0.3513, "color": "#008"}, {"offset": 0.3573, "color": "#008"}, {"offset": 0.3573, "color": "rgba(0,0,128,0)"},
                      {"offset": 0.3752, "color": "rgba(0,0,128,0)"}, {"offset": 0.3752, "color": "#008"}, {"offset": 0.3812, "color": "#008"}, {"offset": 0.3812, "color": "rgba(0,0,128,0)"},
                      {"offset": 0.3991, "color": "rgba(0,0,128,0)"}, {"offset": 0.3991, "color": "#008"}, {"offset": 0.4051, "color": "#008"}, {"offset": 0.4051, "color": "rgba(0,0,128,0)"},
                      {"offset": 0.4230, "color": "rgba(0,0,128,0)"}, {"offset": 0.4230, "color": "#008"}, {"offset": 0.4290, "color": "#008"}, {"offset": 0.4290, "color": "rgba(0,0,128,0)"},
                      {"offset": 0.4469, "color": "rgba(0,0,128,0)"}, {"offset": 0.4469, "color": "#008"}, {"offset": 0.4529, "color": "#008"}, {"offset": 0.4529, "color": "rgba(0,0,128,0)"},
                      {"offset": 0.4709, "color": "rgba(0,0,128,0)"}, {"offset": 0.4709, "color": "#008"}, {"offset": 0.4768, "color": "#008"}, {"offset": 0.4768, "color": "rgba(0,0,128,0)"},
                      {"offset": 0.4948, "color": "rgba(0,0,128,0)"}, {"offset": 0.4948, "color": "#008"}, {"offset": 0.5007, "color": "#008"}, {"offset": 0.5007, "color": "rgba(0,0,128,0)"},
                      {"offset": 0.5187, "color": "rgba(0,0,128,0)"}, {"offset": 0.5187, "color": "#008"}, {"offset": 0.5247, "color": "#008"}, {"offset": 0.5247, "color": "rgba(0,0,128,0)"},
                      {"offset": 0.5426, "color": "rgba(0,0,128,0)"}, {"offset": 0.5426, "color": "#008"}, {"offset": 0.5486, "color": "#008"}, {"offset": 0.5486, "color": "rgba(0,0,128,0)"},
                      {"offset": 0.5665, "color": "rgba(0,0,128,0)"}, {"offset": 0.5665, "color": "#008"}, {"offset": 0.5725, "color": "#008"}, {"offset": 0.5725, "color": "rgba(0,0,128,0)"},
                      {"offset": 0.5904, "color": "rgba(0,0,128,0)"}, {"offset": 0.5904, "color": "#008"}, {"offset": 0.5964, "color": "#008"}, {"offset": 0.5964, "color": "rgba(0,0,128,0)"},
                      {"offset": 0.6143, "color": "rgba(0,0,128,0)"}, {"offset": 0.6143, "color": "#008"}, {"offset": 0.6203, "color": "#008"}, {"offset": 0.6203, "color": "rgba(0,0,128,0)"},
                      {"offset": 0.6383, "color": "rgba(0,0,128,0)"}, {"offset": 0.6383, "color": "#008"}, {"offset": 0.6442, "color": "#008"}, {"offset": 0.6442, "color": "rgba(0,0,128,0)"},
                      {"offset": 0.6622, "color": "rgba(0,0,128,0)"}, {"offset": 0.6622, "color": "#008"}, {"offset": 0.6682, "color": "#008"}, {"offset": 0.6682, "color": "rgba(0,0,128,0)"},
                      {"offset": 0.6861, "color": "rgba(0,0,128,0)"}, {"offset": 0.6861, "color": "#008"}, {"offset": 0.6921, "color": "#008"}, {"offset": 0.6921, "color": "rgba(0,0,128,0)"},
                      {"offset": 0.7100, "color": "rgba(0,0,128,0)"}, {"offset": 0.7100, "color": "#008"}, {"offset": 0.7160, "color": "#008"}, {"offset": 0.7160, "color": "rgba(0,0,128,0)"},
                      {"offset": 0.7339, "color": "rgba(0,0,128,0)"}, {"offset": 0.7339, "color": "#008"}, {"offset": 0.7399, "color": "#008"}, {"offset": 0.7399, "color": "rgba(0,0,128,0)"},
                      {"offset": 0.7578, "color": "rgba(0,0,128,0)"}, {"offset": 0.7578, "color": "#008"}, {"offset": 0.7638, "color": "#008"}, {"offset": 0.7638, "color": "rgba(0,0,128,0)"},
                      {"offset": 0.7818, "color": "rgba(0,0,128,0)"}, {"offset": 0.7818, "color": "#008"}, {"offset": 0.7877, "color": "#008"}, {"offset": 0.7877, "color": "rgba(0,0,128,0)"},
                      {"offset": 0.8057, "color": "rgba(0,0,128,0)"}, {"offset": 0.8057, "color": "#008"}, {"offset": 0.8117, "color": "#008"}, {"offset": 0.8117, "color": "rgba(0,0,128,0)"},
                      {"offset": 0.8296, "color": "rgba(0,0,128,0)"}, {"offset": 0.8296, "color": "#008"}, {"offset": 0.8356, "color": "#008"}, {"offset": 0.8356, "color": "rgba(0,0,128,0)"},
                      {"offset": 0.8535, "color": "rgba(0,0,128,0)"}, {"offset": 0.8535, "color": "#008"}, {"offset": 0.8595, "color": "#008"}, {"offset": 0.8595, "color": "rgba(0,0,128,0)"},
                      {"offset": 0.8774, "color": "rgba(0,0,128,0)"}, {"offset": 0.8774, "color": "#008"}, {"offset": 0.8834, "color": "#008"}, {"offset": 0.8834, "color": "rgba(0,0,128,0)"},
                      {"offset": 0.9013, "color": "rgba(0,0,128,0)"}, {"offset": 0.9013, "color": "#008"}, {"offset": 0.9073, "color": "#008"}, {"offset": 0.9073, "color": "rgba(0,0,128,0)"},
                      {"offset": 0.9253, "color": "rgba(0,0,128,0)"}, {"offset": 0.9253, "color": "#008"}, {"offset": 0.9312, "color": "#008"}, {"offset": 0.9312, "color": "rgba(0,0,128,0)"},
                      {"offset": 0.9492, "color": "rgba(0,0,128,0)"}, {"offset": 0.9492, "color": "#008"}, {"offset": 0.9552, "color": "#008"}, {"offset": 0.9552, "color": "rgba(0,0,128,0)"},
                      {"offset": 0.9731, "color": "rgba(0,0,128,0)"}, {"offset": 0.9731, "color": "#008"}, {"offset": 0.9791, "color": "#008"}, {"offset": 0.9791, "color": "rgba(0,0,128,0)"},
                      {"offset": 1, "color": "rgba(0,0,128,0)"}
                    ]
                  }
                }
              ],
              "value": "rgba(0,0,0,0)"
            }
          }
        },
        {
          "mark": {
            "type": "text",
            "font": "DejaVu Sans Mono",
            "fontSize": 48,
            "fill": "#ffffff",
            "align": "center",
            "baseline": "middle",
            "radius": {"expr": "datum.cat === 'Inmates Awaiting Trial' ? 324 : datum.cat === 'Inmates Sentenced to State Institutions' ? 363 : datum.cat === 'County Sentenced Inmates' ? 271 : 328"},
            "dx": {"expr": "datum.cat === 'Other Inmates' ? 14 : 0"},
            "dy": {"expr": "datum.cat === 'Other Inmates' ? -7 : datum.cat === 'County Sentenced Inmates' ? 3 : 0"},
            "text": {"expr": "datum.cat === 'Inmates Awaiting Trial' ? '███████████' : datum.cat === 'Inmates Sentenced to State Institutions' ? '███████' : '████████'"}
          }
        },
        {
          "mark": {
            "type": "text",
            "font": "Liberation Sans",
            "fontSize": 42.67,
            "fill": "#000000",
            "align": "center",
            "baseline": "middle",
            "radius": {"expr": "datum.cat === 'Inmates Awaiting Trial' ? 324 : datum.cat === 'Inmates Sentenced to State Institutions' ? 363 : datum.cat === 'County Sentenced Inmates' ? 271 : 328"},
            "dx": {"expr": "datum.cat === 'Other Inmates' ? 14 : 0"},
            "dy": {"expr": "datum.cat === 'Other Inmates' ? -7 : datum.cat === 'County Sentenced Inmates' ? 3 : 0"}
          },
          "encoding": {"text": {"field": "label", "type": "nominal"}}
        }
      ]
    },
    {
      "spacing": 0,
      "vconcat": [
        {
          "width": 545,
          "height": 769,
          "view": {"stroke": "#000000", "strokeWidth": 2, "fill": "#ffffff"},
          "data": {"values": []},
          "mark": "rect",
          "encoding": {}
        },
        {
          "width": 545,
          "height": 6,
          "view": {"stroke": null, "fill": "#000000"},
          "data": {"values": []},
          "mark": "rect",
          "encoding": {}
        }
      ]
    }
  ]
}
